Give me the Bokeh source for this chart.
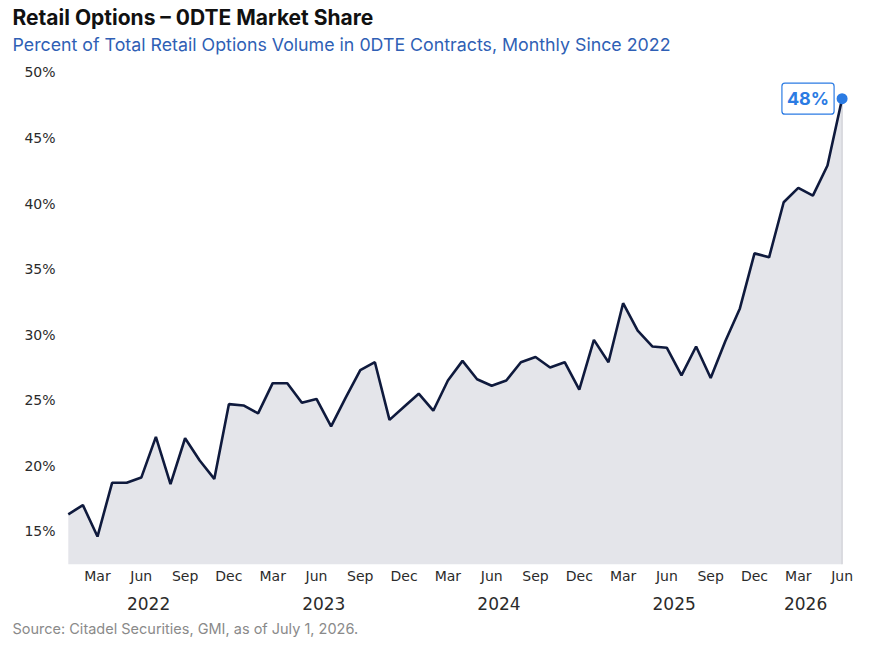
from bokeh.plotting import figure
from bokeh.models import Range1d, FixedTicker, LinearAxis, Label, Title
from bokeh.embed import file_html
from bokeh.resources import INLINE

title = "Retail Options \u2013 0DTE Market Share"
subtitle = "Percent of Total Retail Options Volume in 0DTE Contracts, Monthly Since 2022"
source = "Source: Citadel Securities, GMI, as of July 1, 2026."

# 0DTE share of retail options volume (%), monthly Jan 2022 .. Jun 2026
share = [16.3, 17.0, 14.6, 18.7, 18.7, 19.1, 22.2, 18.6, 22.1, 20.4, 19.0, 24.7,
         24.6, 24.0, 26.3, 26.3, 24.8, 25.1, 23.0, 25.2, 27.3, 27.9, 23.5, 24.5,
         25.5, 24.2, 26.5, 28.0, 26.6, 26.1, 26.5, 27.9, 28.3, 27.5, 27.9, 25.8,
         29.6, 27.9, 32.4, 30.3, 29.1, 29.0, 26.9, 29.1, 26.7, 29.5, 32.0, 36.2,
         35.9, 40.1, 41.2, 40.6, 42.9, 48.0]
months = list(range(len(share)))

month_ticks = [2, 5, 8, 11, 14, 17, 20, 23, 26, 29, 32, 35, 38, 41, 44, 47, 50, 53]
month_labels = ["Mar", "Jun", "Sep", "Dec"] * 4 + ["Mar", "Jun"]
year_ticks = [5.5, 17.5, 29.5, 41.5, 50.5]
year_labels = ["2022", "2023", "2024", "2025", "2026"]
y_ticks = [15, 20, 25, 30, 35, 40, 45, 50]
y_labels = ["%d%%" % t for t in y_ticks]

W, H = 862, 643
FL, FR, FT, FB = 60, 854, 65, 564
x0, x1 = -0.534, 53.85
y0, y1 = 12.47, 50.53

p = figure(width=W, height=H, x_range=Range1d(x0, x1), y_range=Range1d(y0, y1),
           output_backend="svg", toolbar_location=None, title=None,
           min_border_left=FL, min_border_right=W - FR,
           min_border_top=FT, min_border_bottom=H - FB)
p.outline_line_color = None
p.grid.visible = False

p.varea(x=months, y1=y0, y2=share, fill_color="#e4e5ea")
p.segment(x0=[months[-1]], y0=[y0], x1=[months[-1]], y1=[share[-1]],
          line_color="#d4d5da", line_width=1.5)
p.line(months, share, line_color="#0f1a3d", line_width=2.6)
p.scatter([months[-1]], [share[-1]], size=11, fill_color="#2b7be3", line_color=None)


def style_axis(ax, size, standoff):
    ax.axis_line_color = None
    ax.major_tick_line_color = None
    ax.minor_tick_line_color = None
    ax.major_tick_out = 0
    ax.major_tick_in = 0
    ax.major_label_text_font = "DejaVu Sans"
    ax.major_label_text_font_size = size
    ax.major_label_text_color = "#2b2b2b"
    ax.major_label_standoff = standoff


ya = p.yaxis[0]
ya.ticker = FixedTicker(ticks=y_ticks)
ya.major_label_overrides = dict(zip(y_ticks, y_labels))
style_axis(ya, "14px", 5)

xa = p.xaxis[0]
xa.ticker = FixedTicker(ticks=month_ticks)
xa.major_label_overrides = dict(zip(month_ticks, month_labels))
style_axis(xa, "14px", 3)

year_axis = LinearAxis(ticker=FixedTicker(ticks=year_ticks),
                       major_label_overrides=dict(zip(year_ticks, year_labels)))
style_axis(year_axis, "17px", 10)
p.add_layout(year_axis, "below")

p.add_layout(Label(x=months[-1], y=share[-1], text="48%", x_offset=-8,
                   text_align="right", text_baseline="middle",
                   text_font="Inter", text_font_style="bold", text_font_size="18px",
                   text_color="#2b7be3", background_fill_color="white",
                   border_line_color="#2b7be3", border_line_width=1.2,
                   border_radius=3, padding=5))

# titles: first added sits closest to the plot
p.add_layout(Title(text=subtitle, align="left", offset=-48, standoff=20.8,
                   text_font="Inter", text_font_style="normal",
                   text_font_size="17.8px", text_color="#2f5fb5"), "above")
p.add_layout(Title(text=title, align="left", offset=-48, standoff=-17.6,
                   text_font="Inter", text_font_style="bold",
                   text_font_size="21px", text_color="#111111"), "above")
p.add_layout(Title(text=source, align="left", offset=-48, standoff=10,
                   text_font="Inter", text_font_style="normal",
                   text_font_size="14.5px", text_color="#8a8a8a"), "below")

open("out.html", "w").write(file_html(p, INLINE))
